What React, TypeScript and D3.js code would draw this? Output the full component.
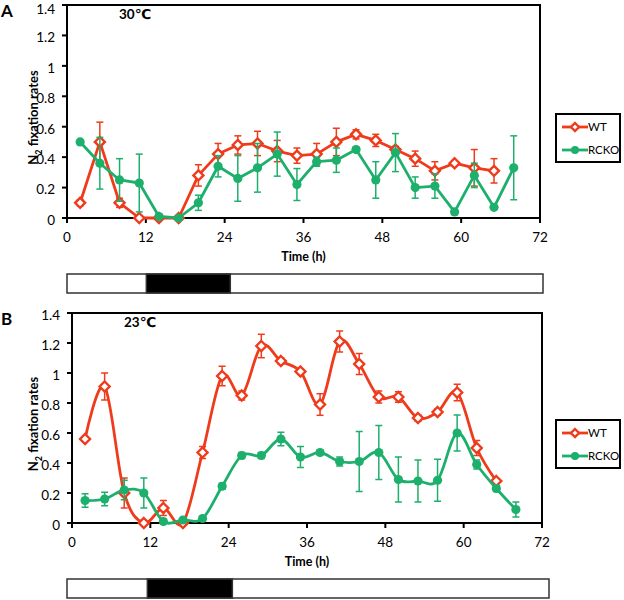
import React from 'react';
import * as d3 from 'd3';

// ---------- data ----------
const hoursWT = [2, 5, 8, 11, 14, 17, 20, 23, 26, 29, 32, 35, 38, 41, 44, 47, 50, 53, 56, 59, 62, 65];
const hoursRCKO = [2, 5, 8, 11, 14, 17, 20, 23, 26, 29, 32, 35, 38, 41, 44, 47, 50, 53, 56, 59, 62, 65, 68];
const xTicks = [0, 12, 24, 36, 48, 60, 72];
const xTickLabels = ['0', '12', '24', '36', '48', '60', '72'];
const yTicks = [0, 0.2, 0.4, 0.6, 0.8, 1, 1.2, 1.4];
const yTickLabels = ['0', '0.2', '0.4', '0.6', '0.8', '1', '1.2', '1.4'];
const seriesNames = ['WT', 'RCKO'];
const darkPeriod = [12, 24.7];

// Panel A, 30℃
const wt30 = [0.10, 0.50, 0.10, 0.0, 0.0, 0.0, 0.28, 0.42, 0.48, 0.49, 0.44, 0.41, 0.42, 0.50, 0.55, 0.51, 0.45, 0.39, 0.31, 0.36, 0.33, 0.31];
const wt30Err = [0.02, 0.13, 0.03, 0.01, 0.0, 0.01, 0.07, 0.07, 0.06, 0.08, 0.07, 0.05, 0.07, 0.09, 0.03, 0.04, 0.02, 0.05, 0.06, 0.01, 0.12, 0.08];
const rcko30 = [0.50, 0.36, 0.25, 0.23, 0.01, 0.0, 0.10, 0.34, 0.26, 0.33, 0.42, 0.22, 0.37, 0.38, 0.45, 0.25, 0.43, 0.20, 0.21, 0.04, 0.28, 0.07, 0.33];
const rcko30Err = [0.01, 0.17, 0.14, 0.19, 0.01, 0.01, 0.05, 0.07, 0.15, 0.16, 0.145, 0.105, 0.03, 0.08, 0.0, 0.12, 0.125, 0.07, 0.08, 0.0, 0.08, 0.0, 0.21];

// Panel B, 23℃
const wt23 = [0.56, 0.91, 0.20, 0.0, 0.10, 0.0, 0.47, 0.98, 0.85, 1.18, 1.08, 1.01, 0.79, 1.21, 1.06, 0.84, 0.84, 0.70, 0.74, 0.87, 0.50, 0.28];
const wt23Err = [0.01, 0.09, 0.10, 0.0, 0.05, 0.0, 0.04, 0.065, 0.03, 0.078, 0.02, 0.015, 0.072, 0.07, 0.07, 0.04, 0.035, 0.02, 0.02, 0.055, 0.05, 0.015];
const rcko23 = [0.15, 0.16, 0.22, 0.20, 0.01, 0.02, 0.03, 0.245, 0.45, 0.45, 0.56, 0.44, 0.47, 0.41, 0.41, 0.47, 0.29, 0.28, 0.285, 0.60, 0.39, 0.23, 0.09];
const rcko23Err = [0.045, 0.045, 0.065, 0.1, 0.0, 0.0, 0.0, 0.02, 0.02, 0.02, 0.045, 0.07, 0.015, 0.03, 0.2, 0.18, 0.15, 0.14, 0.14, 0.12, 0.03, 0.02, 0.05];

// ---------- style ----------
const RED = '#EF3B1C';
const GREEN = '#1DAF6C';
const FONT = 'Lato, "DejaVu Sans", sans-serif';

type Pt = [number, number];

function Diamond({ cx, cy, s = 5 }: { cx: number; cy: number; s?: number }) {
  return (
    <path
      d={`M${cx},${cy - s}L${cx + s},${cy}L${cx},${cy + s}L${cx - s},${cy}Z`}
      fill="#fff"
      stroke={RED}
      strokeWidth={2.4}
    />
  );
}

function Dot({ cx, cy }: { cx: number; cy: number }) {
  return <circle cx={cx} cy={cy} r={4.6} fill={GREEN} />;
}

interface PanelProps {
  tag: string;
  temp: string;
  top: number;
  bottom: number;
  left: number;
  right: number;
  wt: number[];
  wtErr: number[];
  rc: number[];
  rcErr: number[];
  smooth: boolean;
  legendTop: number;
  barTop: number;
  barRight: number;
}

function Panel(p: PanelProps) {
  const x = d3.scaleLinear().domain([0, 72]).range([p.left, p.right]);
  const y = d3.scaleLinear().domain([0, 1.4]).range([p.bottom, p.top]);
  const line = d3
    .line<Pt>()
    .x((d) => x(d[0]))
    .y((d) => y(d[1]))
    .curve(p.smooth ? d3.curveCatmullRom.alpha(0) : d3.curveLinear);
  const wtPts: Pt[] = hoursWT.map((h, i) => [h, p.wt[i]]);
  const rcPts: Pt[] = hoursRCKO.map((h, i) => [h, p.rc[i]]);
  const bar = d3.scaleLinear().domain([0, 72]).range([67, p.barRight]);
  const cap = 3.5;
  const midY = (p.top + p.bottom) / 2;

  const errBars = (pts: Pt[], errs: number[], color: string) =>
    pts.map((d, i) =>
      errs[i] > 0 ? (
        <g key={i} stroke={color} strokeWidth={1.5}>
          <line x1={x(d[0])} x2={x(d[0])} y1={y(d[1] - errs[i])} y2={y(d[1] + errs[i])} />
          <line x1={x(d[0]) - cap} x2={x(d[0]) + cap} y1={y(d[1] + errs[i])} y2={y(d[1] + errs[i])} />
          <line x1={x(d[0]) - cap} x2={x(d[0]) + cap} y1={y(d[1] - errs[i])} y2={y(d[1] - errs[i])} />
        </g>
      ) : null
    );

  return (
    <g fontFamily={FONT}>
      {/* panel tag */}
      <text x={1} y={p.top + 12} fontSize={17} fontWeight="bold">
        {p.tag}
      </text>
      {/* frame */}
      <rect x={p.left} y={p.top} width={p.right - p.left} height={p.bottom - p.top} fill="none" stroke="#000" strokeWidth={2} />
      {/* y ticks */}
      {yTicks.map((t, i) => (
        <g key={t}>
          <line x1={p.left - 5} x2={p.left} y1={y(t)} y2={y(t)} stroke="#000" strokeWidth={2} />
          <text x={p.left - 12} y={Math.max(y(t) + 2.5 + 4.3, 13.8)} textAnchor="end" fontSize={13.5}>
            {yTickLabels[i]}
          </text>
        </g>
      ))}
      {/* x ticks */}
      {xTicks.map((t, i) => (
        <g key={t}>
          <line x1={x(t)} x2={x(t)} y1={p.bottom} y2={p.bottom + 5} stroke="#000" strokeWidth={2} />
          <text x={x(t)} y={p.bottom + 19} dy="0.35em" textAnchor="middle" fontSize={13.5}>
            {xTickLabels[i]}
          </text>
        </g>
      ))}
      {/* axis titles */}
      <text x={(p.left + p.right) / 2} y={p.bottom + 39} dy="0.35em" textAnchor="middle" fontSize={12.5} fontWeight="bold">
        Time (h)
      </text>
      <text
        transform={`translate(33,${midY + 6}) rotate(-90)`}
        textAnchor="middle"
        dy="0.35em"
        fontSize={13}
        fontWeight="bold"
      >
        N<tspan fontSize={9} dy="4">2</tspan>
        <tspan dy="-4"> fixation rates</tspan>
      </text>
      {/* temperature */}
      <text x={p.left + 52} y={p.top + 14} fontSize={13.5} fontWeight="bold">
        {p.temp}
      </text>
      {/* series */}
      {errBars(wtPts, p.wtErr, RED)}
      <path d={line(wtPts) || ''} fill="none" stroke={RED} strokeWidth={2.8} strokeLinejoin="round" />
      {wtPts.map((d, i) => (
        <Diamond key={i} cx={x(d[0])} cy={y(d[1])} />
      ))}
      {errBars(rcPts, p.rcErr, GREEN)}
      <path d={line(rcPts) || ''} fill="none" stroke={GREEN} strokeWidth={2.8} strokeLinejoin="round" />
      {rcPts.map((d, i) => (
        <Dot key={i} cx={x(d[0])} cy={y(d[1])} />
      ))}
      {/* legend */}
      <g transform={`translate(556,${p.legendTop})`}>
        <rect x={0} y={0} width={64} height={48} fill="#fff" stroke="#000" strokeWidth={2} />
        {seriesNames.map((name, i) => {
          const ly = 13 + i * 23;
          const color = i === 0 ? RED : GREEN;
          return (
            <g key={name}>
              <line x1={6} x2={32} y1={ly} y2={ly} stroke={color} strokeWidth={2.8} />
              {i === 0 ? <Diamond cx={19} cy={ly} s={4} /> : <circle cx={19} cy={ly} r={4} fill={GREEN} />}
              <text x={32} y={ly} dy="0.35em" fontSize={11.5}>
                {name}
              </text>
            </g>
          );
        })}
      </g>
      {/* light/dark bar */}
      <rect x={bar(0)} y={p.barTop} width={bar(72) - bar(0)} height={19} fill="#fff" stroke="#333" strokeWidth={1.5} />
      <rect x={bar(darkPeriod[0])} y={p.barTop} width={bar(darkPeriod[1]) - bar(darkPeriod[0])} height={19} fill="#000" stroke="#333" strokeWidth={1.5} />
    </g>
  );
}

export default function App() {
  return (
    <svg
      width={624}
      height={600}
      viewBox="0 0 624 600"
      style={{ position: 'absolute', left: 0, top: 0, background: '#fff' }}
    >
      <rect width={624} height={600} fill="#fff" />
      <Panel
        tag="A"
        temp="30℃"
        top={5}
        bottom={218}
        left={67}
        right={540}
        wt={wt30}
        wtErr={wt30Err}
        rc={rcko30}
        rcErr={rcko30Err}
        smooth={false}
        legendTop={114}
        barTop={274}
        barRight={543}
      />
      <Panel
        tag="B"
        temp="23℃"
        top={313}
        bottom={523}
        left={72}
        right={542}
        wt={wt23}
        wtErr={wt23Err}
        rc={rcko23}
        rcErr={rcko23Err}
        smooth={true}
        legendTop={420}
        barTop={579}
        barRight={549}
      />
    </svg>
  );
}
